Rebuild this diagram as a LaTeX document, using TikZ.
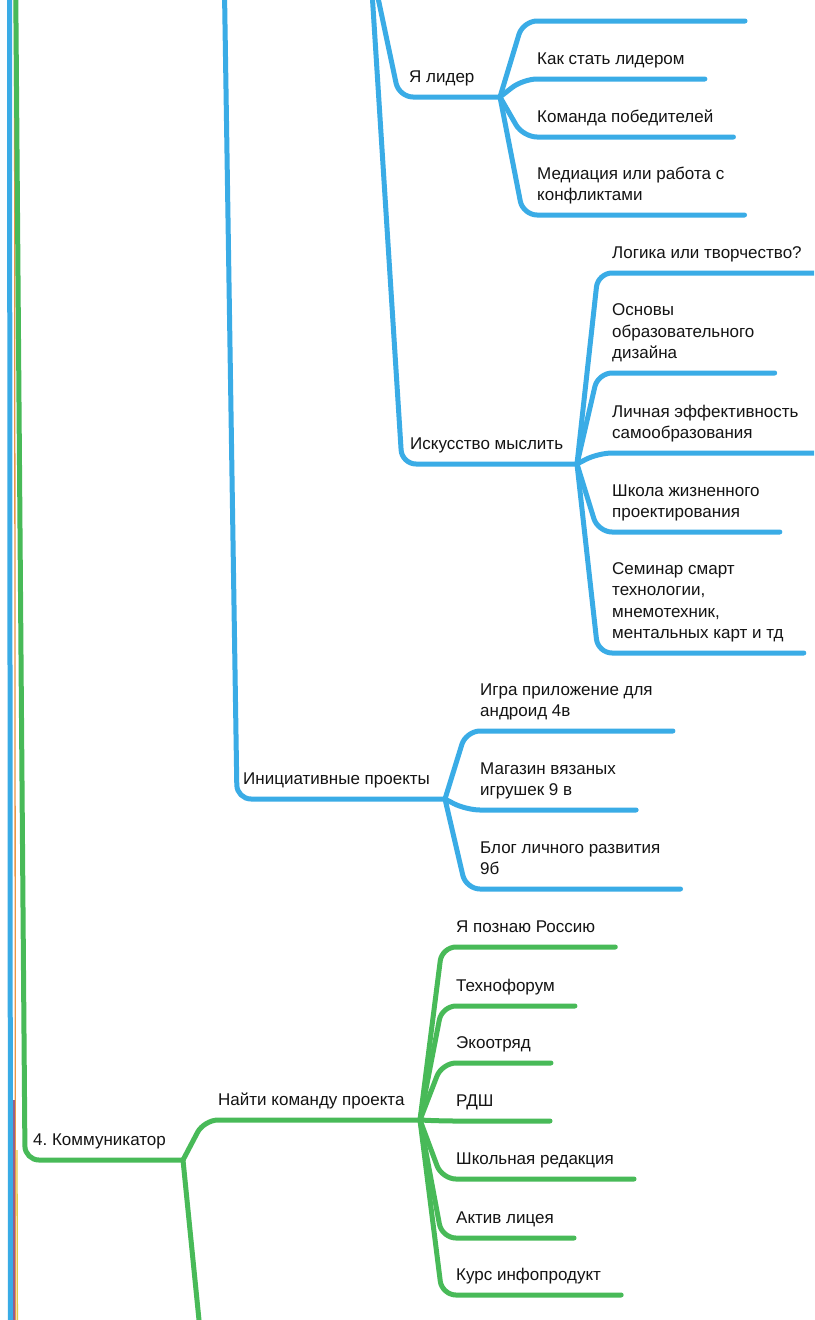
\documentclass[tikz,border=0pt]{standalone}
\usepackage{fontspec}
\setmainfont{Liberation Sans}
\usepackage{tikz}
\usetikzlibrary{positioning}
\definecolor{mapblue}{RGB}{58,172,230}
\definecolor{mapgreen}{RGB}{72,186,88}
\definecolor{maporange}{RGB}{236,150,70}
\definecolor{mapyellow}{RGB}{226,204,70}
\definecolor{mappurple}{RGB}{150,96,140}
\definecolor{textgray}{RGB}{20,20,20}
\frenchspacing

\begin{document}
\begin{tikzpicture}[x=1pt, y=-1pt,
    leaf/.style={anchor=south west, inner sep=0pt, align=left, text=textgray, font=\fontsize{17}{21.5}\selectfont, execute at end node=\strut},
    bluebranch/.style={draw=mapblue, line width=5pt, line cap=round, line join=round, rounded corners=14pt},
    greenbranch/.style={bluebranch, draw=mapgreen},
    thinline/.style={line width=1.3pt}
]
    \useasboundingbox (0,0) rectangle (814,1320);
    \fill[white] (0,0) rectangle (814,1320);
    \clip (0,0) rectangle (814,1320);

    % === ЛИНИИ У ЛЕВОГО КРАЯ ===
    \coordinate (rootblue) at (9.5,-40);
    \coordinate (rootbluelow) at (10.5,1370);
    \coordinate (rootorange) at (14.5,-40);
    \coordinate (rootorangelow) at (15.5,1370);
    \coordinate (rootpurple) at (14,1100);
    \coordinate (rootpurplelow) at (14,1370);
    \coordinate (rootyellow) at (17,1150);
    \coordinate (rootyellowlow) at (17.5,1370);
    \draw[bluebranch] (rootblue) -- (rootbluelow);
    \draw[thinline, maporange] (rootorange) -- (rootorangelow);
    \draw[thinline, mappurple] (rootpurple) -- (rootpurplelow);
    \draw[thinline, mapyellow] (rootyellow) -- (rootyellowlow);

    % === Я ЛИДЕР ===
    \coordinate (upper) at (370,-40);
    \coordinate (liderfork) at (500,97);
    \node[leaf] (lider) at (409,89.5) {Я лидер};
    \draw[bluebranch] (upper) -- ([shift={(-10,7.5)}]lider.south west) -- (liderfork);

    \coordinate (lider0) at (523,21);
    \coordinate (lider0end) at (745,21);
    \draw[bluebranch] (liderfork) -- (lider0) -- (lider0end);
    \node[leaf] (lider1) at (537,71.5) {Как стать лидером};
    \node[leaf] (lider2) at (537,129.5) {Команда победителей};
    \node[leaf] (lider3) at (537,207.5) {Медиация или работа с\\конфликтами};
    \draw[bluebranch] (liderfork) -- ([shift={(-14,7.5)}]lider1.south west) -- ([shift={(20,7.5)}]lider1.south east);
    \draw[bluebranch] (liderfork) -- ([shift={(-14,7.5)}]lider2.south west) -- ([shift={(20,7.5)}]lider2.south east);
    \draw[bluebranch] (liderfork) -- ([shift={(-14,7.5)}]lider3.south west) -- ([shift={(20,7.5)}]lider3.south east);

    % === ИСКУССТВО МЫСЛИТЬ ===
    \coordinate (thinkfork) at (577,464);
    \node[leaf] (think) at (410,456.5) {Искусство мыслить};
    \draw[bluebranch] (upper) -- ([shift={(-8,7.5)}]think.south west) -- (thinkfork);

    \node[leaf] (think1) at (612,265.5) {Логика или творчество?};
    \node[leaf] (think2) at (612,365.5) {Основы\\образовательного\\дизайна};
    \node[leaf] (think3) at (612,445.5) {Личная эффективность\\самообразования};
    \node[leaf] (think4) at (612,524.5) {Школа жизненного\\проектирования};
    \node[leaf] (think5) at (612,645.5) {Семинар смарт\\технологии,\\мнемотехник,\\ментальных карт и тд};
    \draw[bluebranch] (thinkfork) -- ([shift={(-14,7.5)}]think1.south west) -- ([shift={(20,7.5)}]think1.south east);
    \draw[bluebranch] (thinkfork) -- ([shift={(-14,7.5)}]think2.south west) -- ([shift={(20,7.5)}]think2.south east);
    \draw[bluebranch] (thinkfork) -- ([shift={(-14,7.5)}]think3.south west) -- ([shift={(20,7.5)}]think3.south east);
    \draw[bluebranch] (thinkfork) -- ([shift={(-14,7.5)}]think4.south west) -- ([shift={(20,7.5)}]think4.south east);
    \draw[bluebranch] (thinkfork) -- ([shift={(-14,7.5)}]think5.south west) -- ([shift={(20,7.5)}]think5.south east);

    % === ИНИЦИАТИВНЫЕ ПРОЕКТЫ ===
    \coordinate (projtop) at (224,-40);
    \coordinate (projfork) at (445,799);
    \node[leaf] (proj) at (243,791.5) {Инициативные проекты};
    \draw[bluebranch] (projtop) -- ([shift={(-6,7.5)}]proj.south west) -- (projfork);

    \node[leaf] (proj1) at (480,723.5) {Игра приложение для\\андроид 4в};
    \node[leaf] (proj2) at (480,802.5) {Магазин вязаных\\игрушек 9 в};
    \node[leaf] (proj3) at (480,881.5) {Блог личного развития\\9б};
    \draw[bluebranch] (projfork) -- ([shift={(-14,7.5)}]proj1.south west) -- ([shift={(20,7.5)}]proj1.south east);
    \draw[bluebranch] (projfork) -- ([shift={(-14,7.5)}]proj2.south west) -- ([shift={(20,7.5)}]proj2.south east);
    \draw[bluebranch] (projfork) -- ([shift={(-14,7.5)}]proj3.south west) -- ([shift={(20,7.5)}]proj3.south east);

    % === 4. КОММУНИКАТОР ===
    \coordinate (greentop) at (15.5,-40);
    \coordinate (kommfork) at (183,1160);
    \coordinate (kommdown) at (204,1370);
    \node[leaf] (komm) at (33,1152.5) {4. Коммуникатор};
    \draw[greenbranch] (greentop) -- ([shift={(-8,7.5)}]komm.south west) -- (kommfork);
    \draw[greenbranch] (kommfork) -- (kommdown);

    % === НАЙТИ КОМАНДУ ПРОЕКТА ===
    \coordinate (teamfork) at (420,1120);
    \node[leaf] (team) at (218,1112.5) {Найти команду проекта};
    \draw[greenbranch] (kommfork) -- ([shift={(-14,7.5)}]team.south west) -- (teamfork);

    \node[leaf] (team1) at (456,939.5) {Я познаю Россию};
    \node[leaf] (team2) at (456,998.5) {Технофорум};
    \node[leaf] (team3) at (456,1055.5) {Экоотряд};
    \node[leaf] (team4) at (456,1113.5) {РДШ};
    \node[leaf] (team5) at (456,1171.5) {Школьная редакция};
    \node[leaf] (team6) at (456,1230.5) {Актив лицея};
    \node[leaf] (team7) at (456,1287.5) {Курс инфопродукт};
    \draw[greenbranch] (teamfork) -- ([shift={(-14,7.5)}]team1.south west) -- ([shift={(20,7.5)}]team1.south east);
    \draw[greenbranch] (teamfork) -- ([shift={(-14,7.5)}]team2.south west) -- ([shift={(20,7.5)}]team2.south east);
    \draw[greenbranch] (teamfork) -- ([shift={(-14,7.5)}]team3.south west) -- ([shift={(20,7.5)}]team3.south east);
    \draw[greenbranch] (teamfork) -- ([shift={(-14,7.5)}]team4.south west) -- ([shift={(94,7.5)}]team4.south west);
    \draw[greenbranch] (teamfork) -- ([shift={(-14,7.5)}]team5.south west) -- ([shift={(20,7.5)}]team5.south east);
    \draw[greenbranch] (teamfork) -- ([shift={(-14,7.5)}]team6.south west) -- ([shift={(20,7.5)}]team6.south east);
    \draw[greenbranch] (teamfork) -- ([shift={(-14,7.5)}]team7.south west) -- ([shift={(20,7.5)}]team7.south east);

\end{tikzpicture}
\end{document}
